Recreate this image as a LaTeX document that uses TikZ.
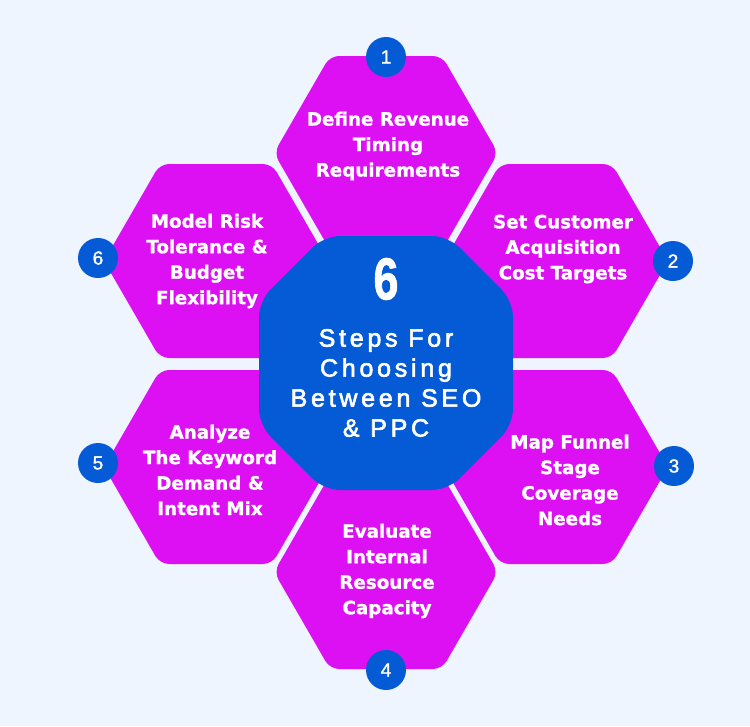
\documentclass[tikz,border=0pt]{standalone}
\usepackage{fontspec}
\setmainfont{Liberation Sans}
\newfontfamily\hexfont{DejaVu Sans}[UprightFont=* Bold, FakeBold=1.2]
\newfontfamily\numfont{Liberation Sans}[FakeBold=1.5]
\newfontfamily\titlefont{Liberation Sans}[FakeBold=2.5, LetterSpace=15]
\definecolor{bgc}{HTML}{EEF5FE}
\definecolor{mag}{HTML}{DC10F2}
\definecolor{blu}{HTML}{055AD6}
\tikzset{
  hexfill/.style={fill=mag, rounded corners=9pt},
  octfill/.style={fill=blu, rounded corners=16pt},
  numcirc/.style={circle, fill=blu, minimum size=40pt, inner sep=0pt, text=white, font=\numfont\fontsize{19}{19}\selectfont},
  hextext/.style={text=white, align=center, font=\hexfont\fontsize{18.3}{25.5}\selectfont},
}
\newcommand{\hexat}[2]{\path[hexfill,shift={(#1,#2)}] (-112,0) -- (-56,-97) -- (56,-97) -- (112,0) -- (56,97) -- (-56,97) -- cycle;}
\begin{document}
\begin{tikzpicture}[x=1pt,y=-1pt]
\fill[bgc] (0,0) rectangle (750,726);
\useasboundingbox (0,0) rectangle (750,726);
\hexat{386}{153}
\hexat{556}{261}
\hexat{556}{467}
\hexat{386}{572}
\hexat{216}{467}
\hexat{216}{261}
\path[octfill,shift={(386,363)}] (-62,-127) -- (62,-127) -- (127,-62) -- (127,62) -- (62,127) -- (-62,127) -- (-127,62) -- (-127,-62) -- cycle;
\node[numcirc] (n1) at (386,57) {1};
\node[numcirc] (n2) at (673,261) {2};
\node[numcirc] (n3) at (674,466) {3};
\node[numcirc] (n4) at (386,670) {4};
\node[numcirc] (n5) at (98,463) {5};
\node[numcirc] (n6) at (98,258) {6};
\node[hextext] (t1) at (388,146) {Define Revenue\\Timing\\Requirements};
\node[hextext] (t2) at (563,249) {Set Customer\\Acquisition\\Cost Targets};
\node[hextext] (t3) at (570,480) {Map Funnel\\Stage\\Coverage\\Needs};
\node[hextext] (t4) at (387,571) {Evaluate\\Internal\\Resource\\Capacity};
\node[hextext] (t5) at (210,470) {Analyze\\The Keyword\\Demand \&\\Intent Mix};
\node[hextext] (t6) at (207,261) {Model Risk\\Tolerance \&\\Budget\\Flexibility};
\node[text=white, inner sep=0pt, font=\numfont\bfseries\fontsize{59}{59}\selectfont] (six) at (386,279) {\scalebox{0.76}[1]{6}};
\node[text=white, align=center, font=\titlefont\fontsize{25}{30}\selectfont] (title) at (386,383) {Steps For\\Choosing\\Between SEO\\\& PPC};
\end{tikzpicture}
\end{document}
